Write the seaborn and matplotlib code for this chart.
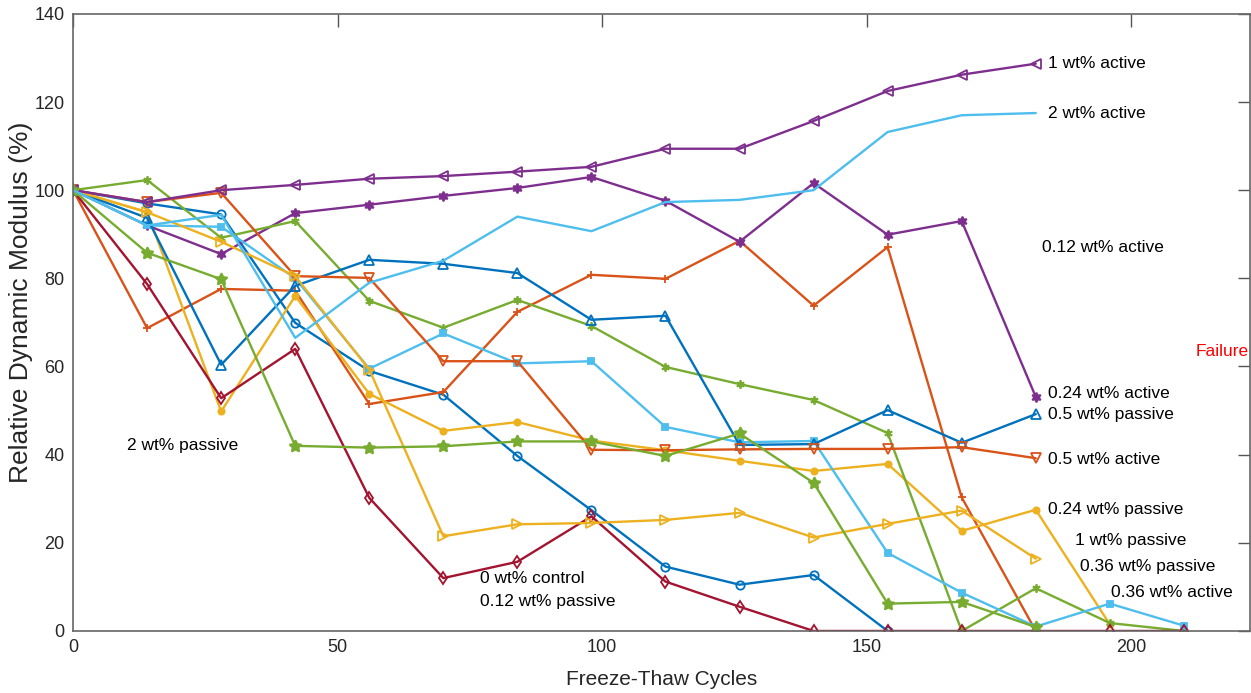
import numpy as np
import pandas as pd
import matplotlib
matplotlib.use("Agg")
import matplotlib.pyplot as plt
import seaborn as sns

# Freeze-thaw cycles (x axis)
cycles = [0, 14, 28, 42, 56, 70, 84, 98, 112, 126, 140, 154, 168, 182, 196, 210]

# Relative dynamic modulus (%), one list per mix
blue_circle = [100, 97.0, 94.5, 69.9, 59.0, 53.6, 39.7, 27.4, 14.6, 10.5, 12.7, 0]
orange_plus = [100, 68.7, 77.6, 77.2, 51.5, 54.2, 72.4, 80.8, 79.9, 88.5, 73.8, 87.1, 30.3, 0]
yellow_dot = [100, 95.0, 49.8, 76.0, 53.8, 45.4, 47.4, 43.2, 41.0, 38.6, 36.3, 37.9, 22.7, 27.5, 1.5]
purple_hex = [100, 92.0, 85.5, 94.8, 96.7, 98.7, 100.5, 103.0, 97.6, 88.3, 101.6, 89.9, 93.0, 53.1]
green_x = [100, 102.3, 89.2, 93.0, 74.9, 68.8, 75.1, 69.2, 59.9, 56.0, 52.4, 44.9, 0, 9.7, 1.8, 0]
lightblue_sq = [100, 92.0, 91.7, 80.0, 59.5, 67.5, 60.7, 61.2, 46.3, 42.8, 43.1, 17.7, 8.7, 1.0, 6.2, 1.2]
darkred_dia = [100, 78.7, 52.8, 64.0, 30.2, 12.0, 15.7, 26.0, 11.2, 5.5, 0, 0, 0, 0, 0, 0]
blue_tri = [100, 93.7, 60.4, 78.3, 84.2, 83.3, 81.2, 70.6, 71.5, 42.2, 42.4, 50.1, 42.7, 49.2]
orange_tri = [100, 97.3, 99.4, 80.5, 80.1, 61.2, 61.2, 41.1, 41.0, 41.2, 41.3, 41.3, 41.7, 39.2]
yellow_tri = [100, 95.0, 88.3, 80.5, 59.3, 21.5, 24.2, 24.5, 25.2, 26.8, 21.2, 24.3, 27.3, 16.4]
purple_tri = [100, 97.3, 100, 101.2, 102.6, 103.2, 104.2, 105.3, 109.4, 109.4, 115.7, 122.5, 126.2, 128.7]
green_star = [100, 85.8, 79.8, 42.0, 41.6, 41.9, 43.0, 43.0, 39.7, 44.8, 33.6, 6.2, 6.6, 0.9]
lightblue_line = [100, 92.0, 94.4, 66.5, 79.0, 84.0, 94.0, 90.7, 97.3, 97.8, 100.0, 113.2, 117.0, 117.5]

# annotation labels and where they sit (data coords)
label_texts = ["1 wt% active", "2 wt% active", "0.12 wt% active", "0.24 wt% active",
               "0.5 wt% passive", "0.5 wt% active", "0.24 wt% passive", "1 wt% passive",
               "0.36 wt% passive", "0.36 wt% active", "2 wt% passive", "0 wt% control",
               "0.12 wt% passive"]
label_x = [184.3, 184.3, 183.2, 184.3, 184.3, 184.3, 184.3, 189.4, 190.4, 196.2, 10.2, 76.9, 76.9]
label_y = [128.7, 117.3, 86.9, 53.8, 49.0, 38.8, 27.5, 20.6, 14.7, 8.8, 42.0, 11.8, 6.6]

sns.set_style("white")
plt.rcParams['font.family'] = ['Liberation Sans', 'DejaVu Sans']

fig, ax = plt.subplots(figsize=(12.51, 6.93), dpi=100)
fig.subplots_adjust(left=0.0584, right=0.9992, bottom=0.0895, top=0.980)

# (values, color, marker, filled marker?, size)
series = [
    (blue_circle, "#0072BD", "o", False, 6),
    (orange_plus, "#D95319", "+", False, 6),
    (yellow_dot, "#EDB120", ".", True, 9),
    (purple_hex, "#7E2F8E", (6, 1, 0), True, 7),
    (green_x, "#77AC30", (6, 2, 0), False, 6),
    (lightblue_sq, "#4DBEEE", "s", True, 5),
    (darkred_dia, "#A2142F", "d", False, 6),
    (blue_tri, "#0072BD", "^", False, 7),
    (orange_tri, "#D95319", "v", False, 7),
    (yellow_tri, "#EDB120", ">", False, 7),
    (purple_tri, "#7E2F8E", "<", False, 7),
    (green_star, "#77AC30", (5, 1, 0), True, 9),
    (lightblue_line, "#4DBEEE", None, False, 6),
]

for vals, col, mk, filled, ms in series:
    df = pd.DataFrame({"cycle": cycles[:len(vals)], "rdm": vals})
    kw = dict(color=col, linewidth=1.7, sort=False, errorbar=None, ax=ax)
    if mk is not None:
        kw.update(marker=mk, markersize=ms, markeredgecolor=col,
                  markeredgewidth=1.3,
                  markerfacecolor=col if filled else "none")
    sns.lineplot(data=df, x="cycle", y="rdm", **kw)

for t, x, y in zip(label_texts, label_x, label_y):
    ax.text(x, y, t, fontsize=12.5, ha="left", va="center", color="black")
ax.text(212.3, 63.3, "Failure", fontsize=12.5, ha="left", va="center", color="#FF0000")

ax.set_xlim(0, 222.5)
ax.set_ylim(0, 140)
ax.set_xticks([0, 50, 100, 150, 200])
ax.set_yticks(np.arange(0, 141, 20))
ax.tick_params(direction="in", length=9, width=1, colors="#555555",
               labelcolor="#262626", labelsize=13, top=True, right=True, pad=6)
for s in ax.spines.values():
    s.set_visible(True)
    s.set_color("#666666")
    s.set_linewidth(1.2)
ax.set_xlabel("Freeze-Thaw Cycles", fontsize=15, color="#262626", labelpad=10)
ax.set_ylabel("Relative Dynamic Modulus (%)", fontsize=19, color="#262626")
ax.yaxis.set_label_coords(-0.034, 0.533)

fig.savefig("out.png", dpi=100)
